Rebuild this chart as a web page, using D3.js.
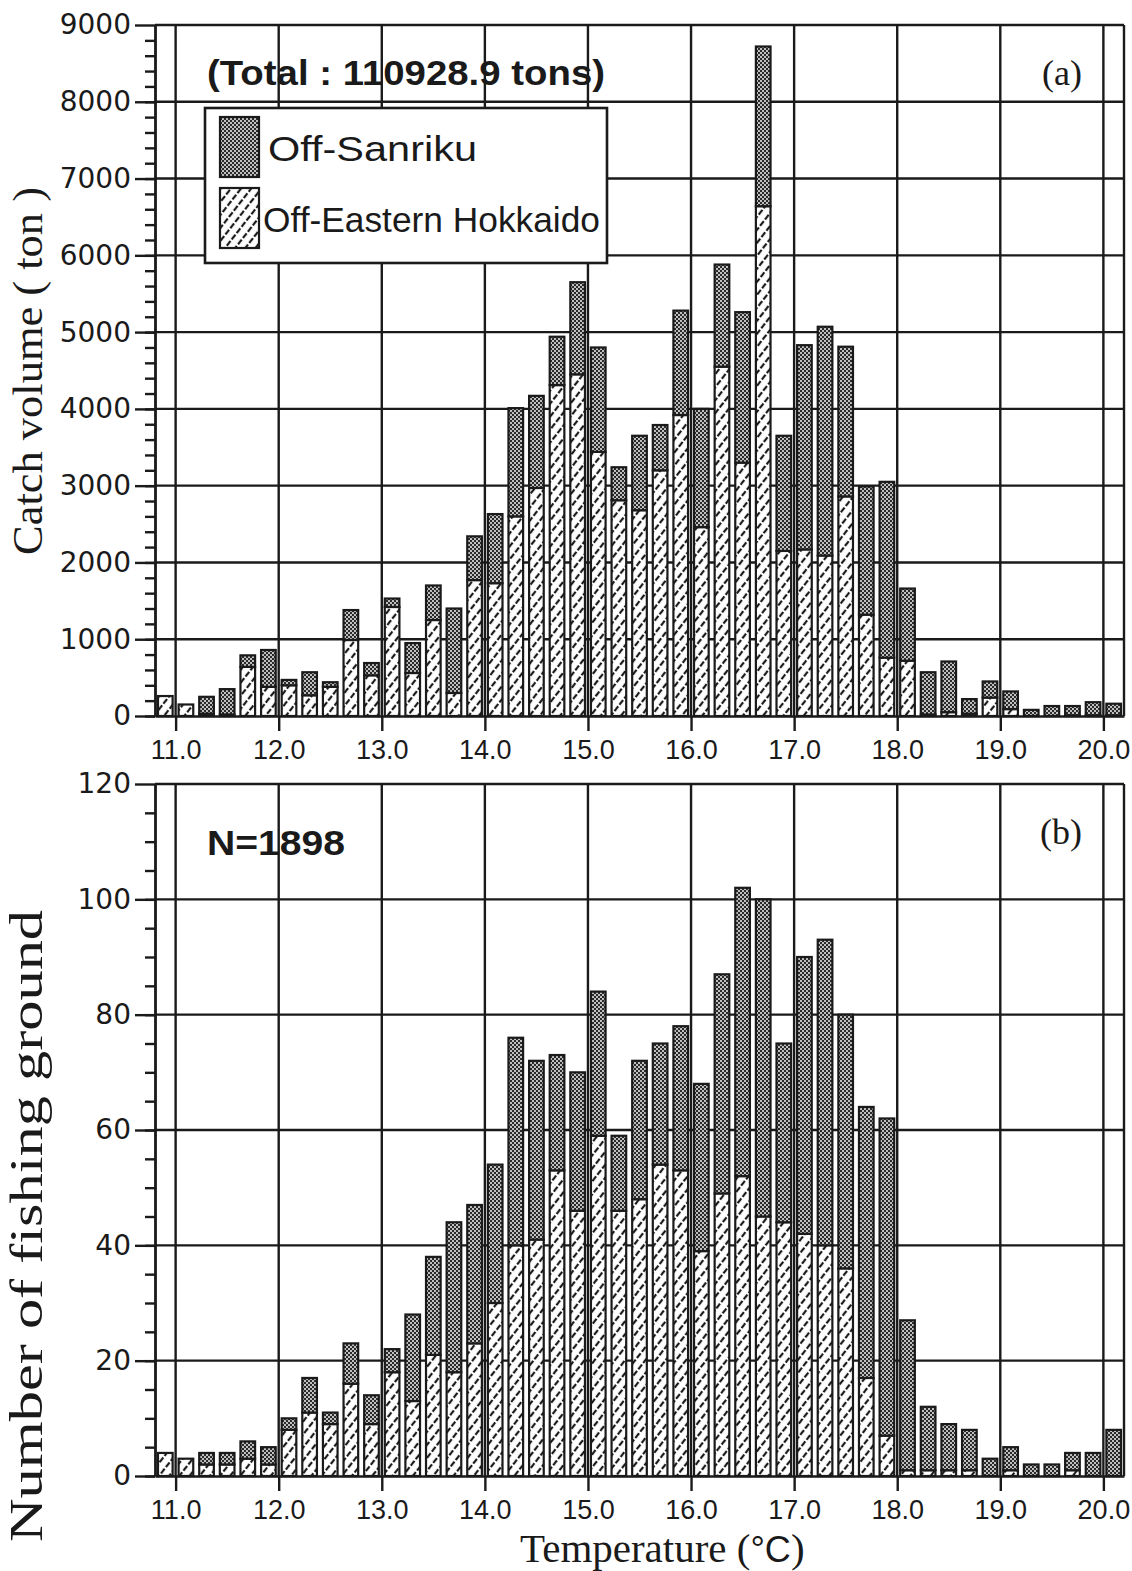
<!DOCTYPE html>
<html>
<head>
<meta charset="utf-8">
<script src="https://cdn.jsdelivr.net/npm/d3@7"></script>
<style>
  body { margin: 0; background: #fff; }
  svg { display: block; }
  .ytick text { font-family: "DejaVu Sans", sans-serif; font-size: 28px; fill: #1a1a1a; }
  .xtick text { font-family: "Liberation Sans", Arial, sans-serif; font-size: 27px; fill: #1a1a1a; }
  .domain, .tick line { stroke: #1a1a1a; stroke-width: 2.4; }
</style>
</head>
<body>
<svg width="1132" height="1571"></svg>
<script>
// bin centres (deg C), 0.2 degree classes
const temps = [10.9, 11.1, 11.3, 11.5, 11.7, 11.9, 12.1, 12.3, 12.5, 12.7,
  12.9, 13.1, 13.3, 13.5, 13.7, 13.9, 14.1, 14.3, 14.5, 14.7,
  14.9, 15.1, 15.3, 15.5, 15.7, 15.9, 16.1, 16.3, 16.5, 16.7,
  16.9, 17.1, 17.3, 17.5, 17.7, 17.9, 18.1, 18.3, 18.5, 18.7,
  18.9, 19.1, 19.3, 19.5, 19.7, 19.9, 20.1];

// (a) catch volume, tons
const catchEastern = [260, 150, 30, 20, 640, 380, 400, 270, 380, 990,
  530, 1420, 560, 1250, 300, 1770, 1730, 2600, 2970, 4310,
  4450, 3440, 2810, 2680, 3200, 3920, 2460, 4550, 3300, 6640,
  2150, 2170, 2090, 2860, 1320, 760, 720, 20, 50, 30,
  240, 90, 0, 0, 10, 10, 10];
const catchSanriku = [0, 0, 220, 330, 150, 480, 70, 300, 60, 390,
  160, 110, 390, 450, 1100, 570, 900, 1410, 1200, 630,
  1200, 1360, 430, 970, 590, 1360, 1540, 1330, 1960, 2080,
  1500, 2660, 2980, 1950, 1670, 2290, 940, 550, 660, 190,
  210, 230, 80, 130, 120, 170, 150];

// (b) number of fishing grounds
const groundEastern = [4, 3, 2, 2, 3, 2, 8, 11, 9, 16,
  9, 18, 13, 21, 18, 23, 30, 40, 41, 53,
  46, 59, 46, 48, 54, 53, 39, 49, 52, 45,
  44, 42, 40, 36, 17, 7, 1, 1, 1, 1,
  0, 1, 0, 0, 1, 0, 0];
const groundSanriku = [0, 0, 2, 2, 3, 3, 2, 6, 2, 7,
  5, 4, 15, 17, 26, 24, 24, 36, 31, 20,
  24, 25, 13, 24, 21, 25, 29, 38, 50, 55,
  31, 48, 53, 44, 47, 55, 26, 11, 8, 7,
  3, 4, 2, 2, 3, 4, 8];

const tempTicks = [11, 12, 13, 14, 15, 16, 17, 18, 19, 20];
const catchTicks = [0, 1000, 2000, 3000, 4000, 5000, 6000, 7000, 8000, 9000];
const groundTicks = [0, 20, 40, 60, 80, 100, 120];

const ink = '#1a1a1a';
const svg = d3.select('svg');
const x = d3.scaleLinear().domain([10.8, 20.2]).range([155, 1124]);
const barWidth = 0.142;

// fill patterns
const defs = svg.append('defs');
const dots = defs.append('pattern').attr('id', 'dots')
  .attr('patternUnits', 'userSpaceOnUse').attr('width', 4).attr('height', 4);
dots.append('rect').attr('width', 4).attr('height', 4).attr('fill', '#2a2a2a');
dots.append('circle').attr('cx', 1).attr('cy', 1).attr('r', 0.95).attr('fill', '#fff');
dots.append('circle').attr('cx', 3).attr('cy', 3).attr('r', 0.95).attr('fill', '#fff');

const hatch = defs.append('pattern').attr('id', 'hatch')
  .attr('patternUnits', 'userSpaceOnUse').attr('width', 8).attr('height', 8)
  .attr('patternTransform', 'rotate(38)');
hatch.append('rect').attr('width', 8).attr('height', 8).attr('fill', '#fff');
hatch.append('line').attr('x1', 2).attr('y1', 0).attr('x2', 2).attr('y2', 8)
  .attr('stroke', ink).attr('stroke-width', 2.2).attr('stroke-dasharray', '6 2');

function drawPanel(p) {
  const y = d3.scaleLinear().domain([0, p.ticks[p.ticks.length - 1]]).range([p.bottom, p.top]);
  const g = svg.append('g');

  // grid
  g.append('g').selectAll('line')
    .data(p.ticks.filter(v => v > 0))
    .join('line')
    .attr('x1', x(10.8)).attr('x2', x(20.2))
    .attr('y1', d => y(d)).attr('y2', d => y(d))
    .attr('stroke', ink).attr('stroke-width', 2.4);
  g.append('g').selectAll('line')
    .data(tempTicks.concat([20.2]))
    .join('line')
    .attr('x1', d => x(d)).attr('x2', d => x(d))
    .attr('y1', p.top).attr('y2', p.bottom)
    .attr('stroke', ink).attr('stroke-width', 2.4);

  // stacked bars
  const rows = temps.map((t, i) => ({ t, eastern: p.eastern[i], sanriku: p.sanriku[i] }));
  const series = d3.stack().keys(['eastern', 'sanriku'])(rows);
  const fills = { eastern: 'url(#hatch)', sanriku: 'url(#dots)' };

  g.append('g').selectAll('g')
    .data(series)
    .join('g')
    .attr('fill', s => fills[s.key])
    .selectAll('rect')
    .data(s => s.filter(d => d[1] > d[0]))
    .join('rect')
    .attr('x', d => x(d.data.t - barWidth / 2))
    .attr('width', x(barWidth) - x(0))
    .attr('y', d => y(d[1]))
    .attr('height', d => y(d[0]) - y(d[1]))
    .attr('stroke', ink).attr('stroke-width', 2.2);

  // axes
  const yMinor = d3.range(0, p.ticks[p.ticks.length - 1], p.minor);
  g.append('g')
    .attr('transform', `translate(${x(10.8)},0)`)
    .call(d3.axisLeft(y).tickValues(yMinor).tickSize(10).tickSizeOuter(0).tickFormat(''));
  g.append('g')
    .attr('class', 'ytick')
    .attr('transform', `translate(${x(10.8)},0)`)
    .call(d3.axisLeft(y).tickValues(p.ticks).tickSize(20).tickSizeOuter(0)
      .tickPadding(4).tickFormat(d3.format('d')));
  g.append('g')
    .attr('class', 'xtick')
    .attr('transform', `translate(0,${p.bottom})`)
    .call(d3.axisBottom(x).tickValues(tempTicks).tickSize(15).tickSizeOuter(0)
      .tickPadding(9).tickFormat(d3.format('.1f')));

  g.append('text')
    .attr('x', 1082).attr('y', p.top + 60)
    .attr('text-anchor', 'end')
    .attr('font-family', '"Liberation Serif", "Times New Roman", serif')
    .attr('font-size', 36).attr('fill', ink)
    .text(p.tag);

  g.append('text')
    .attr('x', 207).attr('y', p.top + p.noteDy)
    .attr('font-family', '"Liberation Sans", Arial, sans-serif')
    .attr('font-weight', 'bold')
    .attr('font-size', 35).attr('fill', ink)
    .attr('textLength', p.noteLen).attr('lengthAdjust', 'spacingAndGlyphs')
    .text(p.note);

  g.append('text')
    .attr('transform', `translate(42,${p.titleY}) rotate(-90)`)
    .attr('text-anchor', 'middle')
    .attr('font-family', '"Liberation Serif", "Times New Roman", serif')
    .attr('font-size', p.titleSize).attr('fill', ink)
    .attr('textLength', p.titleLen).attr('lengthAdjust', 'spacingAndGlyphs')
    .text(p.title);

  return g;
}

drawPanel({
  top: 25, bottom: 716, ticks: catchTicks, minor: 200,
  eastern: catchEastern, sanriku: catchSanriku,
  tag: '(a)', note: '(Total : 110928.9 tons)', noteDy: 60, noteLen: 398,
  title: 'Catch volume ( ton )', titleY: 371, titleLen: 368, titleSize: 42
});

drawPanel({
  top: 784, bottom: 1476, ticks: groundTicks, minor: 5,
  eastern: groundEastern, sanriku: groundSanriku,
  tag: '(b)', note: 'N=1898', noteDy: 71, noteLen: 138,
  title: 'Number of fishing ground', titleY: 1226, titleLen: 632, titleSize: 46
});

// legend
const legend = svg.append('g');
legend.append('rect')
  .attr('x', 205).attr('y', 108).attr('width', 402).attr('height', 155)
  .attr('fill', '#fff').attr('stroke', ink).attr('stroke-width', 2.6);
const legendItems = [
  { label: 'Off-Sanriku', fill: 'url(#dots)', y: 117, tx: 268, len: 209 },
  { label: 'Off-Eastern Hokkaido', fill: 'url(#hatch)', y: 188, tx: 263, len: 337 }
];
legend.selectAll('rect.sw')
  .data(legendItems)
  .join('rect')
  .attr('class', 'sw')
  .attr('x', 220).attr('y', d => d.y).attr('width', 39).attr('height', 60)
  .attr('fill', d => d.fill).attr('stroke', ink).attr('stroke-width', 2.2);
legend.selectAll('text')
  .data(legendItems)
  .join('text')
  .attr('x', d => d.tx).attr('y', d => d.y + 44)
  .attr('font-family', '"Liberation Sans", Arial, sans-serif')
  .attr('font-size', 35).attr('fill', ink)
  .attr('textLength', d => d.len).attr('lengthAdjust', 'spacingAndGlyphs')
  .text(d => d.label);

// x axis title
const xt = svg.append('text')
  .attr('x', 520).attr('y', 1562)
  .attr('font-family', '"Liberation Serif", "Times New Roman", serif')
  .attr('font-size', 41).attr('fill', ink);
xt.append('tspan').text('Temperature (');
xt.append('tspan').attr('font-family', '"Liberation Sans", Arial, sans-serif').attr('font-size', 36).text('°C');
xt.append('tspan').text(')');
</script>
</body>
</html>
